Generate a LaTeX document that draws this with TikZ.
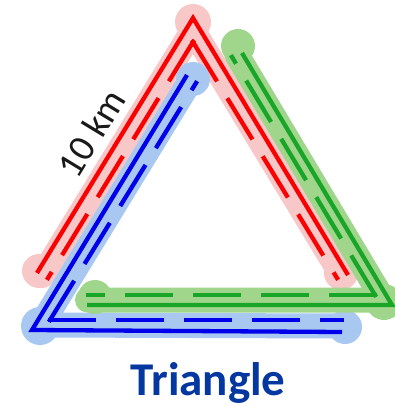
\documentclass[tikz,border=0pt]{standalone}
\usepackage{fontspec}
\setmainfont{Carlito}
\usetikzlibrary{positioning,calc}

\definecolor{redpath}{RGB}{250,0,0}
\definecolor{bluepath}{RGB}{0,0,235}
\definecolor{greenpath}{RGB}{25,165,40}
\definecolor{redband}{RGB}{248,200,200}
\definecolor{blueband}{RGB}{168,200,242}
\definecolor{greenband}{RGB}{160,214,140}
\definecolor{titleblue}{RGB}{5,55,160}

\begin{document}
\begin{tikzpicture}[
  x=1pt, y=-1pt,
  band/.style={line width=25pt, line cap=round, line join=round},
  solidpath/.style={line width=4.3pt, line join=miter},
  dashpath/.style={line width=4.3pt, line cap=rect, dash pattern=on 44pt off 24pt},
  lab/.style={font=\fontsize{38}{40}\selectfont, text=black!90},
  title/.style={font=\fontsize{47}{50}\selectfont\bfseries, text=titleblue}
]
  \useasboundingbox (0,0) rectangle (395,406);

  % red path, apex on top
  \coordinate (rtop) at (193,18);
  \coordinate (rleft) at (37,273);
  \coordinate (rright) at (348,275);
  \coordinate (rtopin) at (193,42);
  \coordinate (rleftin) at (48,278);
  \coordinate (rrightin) at (337,278);

  % blue path, corner bottom left
  \coordinate (bcorner) at (32,330);
  \coordinate (bright) at (342,332);
  \coordinate (btop) at (187,75);
  \coordinate (bcornerin) at (50,320);
  \coordinate (brightin) at (342,320);
  \coordinate (btopin) at (196,83);

  % green path, corner bottom right
  \coordinate (gcorner) at (392,305);
  \coordinate (gleft) at (87,305);
  \coordinate (gtop) at (242,53);
  \coordinate (gcornerin) at (375,295);
  \coordinate (gleftin) at (88,295);
  \coordinate (gtopin) at (232,57);

  % light bands
  \draw[band, redband] ($(rleft)!.5!(rleftin)$) -- ($(rtop)!.5!(rtopin)$) -- ($(rright)!.5!(rrightin)$);
  \fill[redband] (193,22) circle[radius=18];
  \fill[redband] (39,271) circle[radius=17];
  \fill[redband] (341,273) circle[radius=17];

  \draw[band, blueband] ($(bright)!.5!(brightin)$) -- ($(bcorner)!.5!(bcornerin)$) -- ($(btop)!.5!(btopin)$);
  \fill[blueband] (40,326) circle[radius=19];
  \fill[blueband] (345,327) circle[radius=17];
  \fill[blueband] (193,79) circle[radius=17];

  \draw[band, greenband] ($(gleft)!.5!(gleftin)$) -- ($(gcorner)!.5!(gcornerin)$) -- ($(gtop)!.5!(gtopin)$);
  \fill[greenband] (95,297) circle[radius=17];
  \fill[greenband] (238,46) circle[radius=17];
  \fill[greenband] (384,302) circle[radius=18];

  % outer solid lines
  \draw[solidpath, redpath] (rleft) -- (rtop) -- (rright);
  \draw[solidpath, bluepath] (bright) -- (bcorner) -- (btop);
  \draw[solidpath, greenpath] (gleft) -- (gcorner) -- (gtop);

  % inner dashed lines
  \draw[dashpath, redpath] (rtopin) -- (rleftin);
  \draw[dashpath, redpath] (rtopin) -- (rrightin);
  \draw[dashpath, bluepath] (bcornerin) -- (brightin);
  \draw[dashpath, bluepath] (bcornerin) -- (btopin);
  \draw[dashpath, greenpath] (gcornerin) -- (gleftin);
  \draw[dashpath, greenpath] (gcornerin) -- (gtopin);

  \node[lab, rotate=58.7] (dist) at (91,133) {10 km};
  \node[title, anchor=base] (name) at (208,395) {Triangle};
\end{tikzpicture}
\end{document}
